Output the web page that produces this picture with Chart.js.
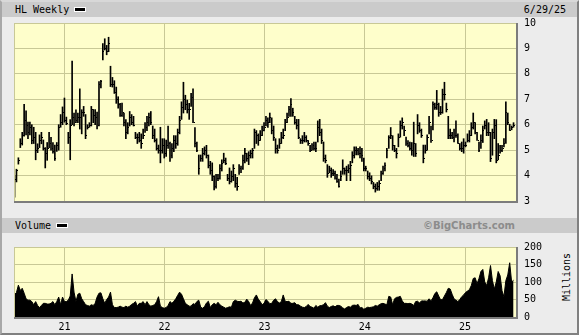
<!DOCTYPE html>
<html>
<head>
<meta charset="utf-8">
<script src="https://cdn.jsdelivr.net/npm/chart.js@4.4.1/dist/chart.umd.min.js"></script>
<style>
  html, body { margin: 0; padding: 0; }
  body { width: 579px; height: 335px; position: relative; overflow: hidden; background: #ececec;
         font-family: "DejaVu Sans Mono", monospace; font-size: 10px; color: #000; }
  #frame { position: absolute; left: 0; top: 0; width: 575px; height: 331px;
           border-left: 2px solid #a8a8a8; border-top: 2px solid #d8d8d8;
           border-right: 2px solid #808080; border-bottom: 2px solid #808080; }
  .band { position: absolute; left: 2px; width: 575px; height: 15px; line-height: 15px; background: #cbcbcb; }
  .band .title { position: absolute; left: 13px; top: 0; }
  .swatch { display: inline-block; width: 10px; height: 3px; background: #000; border: 1px solid #fff;
            vertical-align: middle; margin-left: 5px; position: relative; top: -1px; }
  #date { position: absolute; right: 11px; top: 0; }
  #brand { position: absolute; right: 62px; top: 0; font-family: "DejaVu Sans", sans-serif;
           font-weight: bold; font-size: 10px; color: #8c8c8c; }
  #millions { position: absolute; left: 566px; top: 277px; transform: translate(-50%, -50%) rotate(-90deg);
              white-space: nowrap; }
  canvas { position: absolute; left: 0; }
</style>
</head>
<body>
<div id="frame"></div>
<div class="band" style="top:2px"><span class="title">HL Weekly<span class="swatch"></span></span><span id="date">6/29/25</span></div>
<div class="band" style="top:218px"><span class="title">Volume<span class="swatch"></span></span><span id="brand">©BigCharts.com</span></div>
<div id="millions">Millions</div>
<canvas id="price" width="579" height="215" style="top:0"></canvas>
<canvas id="volume" width="579" height="102" style="top:233px"></canvas>
<script>
// weekly bars, first week ending 2020-07-03, last 2025-06-27
const firstWeek = '2020-07-03';
const yearLabels = ['21', '22', '23', '24', '25'];
const yearStarts = ['2021-01-01', '2022-01-01', '2023-01-01', '2024-01-01', '2025-01-01'];
const priceTicks = [3, 4, 5, 6, 7, 8, 9, 10];
const volumeTicks = [0, 50, 100, 150, 200];

const highs = [
  4.0,4.25,4.7,5.45,5.7,6.8,6.55,6.1,6.1,6.0,
  5.9,5.7,5.25,5.6,5.7,5.4,5.1,5.3,5.7,5.5,
  5.3,5.2,5.3,6.0,6.4,6.7,7.05,6.3,5.7,6.2,
  8.5,6.46,6.59,6.46,7.41,6.59,6.72,6.4,6.0,6.08,
  6.72,6.6,6.6,6.5,7.7,7.75,9.19,9.38,9.12,9.44,
  8.3,7.86,7.73,7.48,7.1,6.84,6.85,6.46,6.2,6.08,
  6.52,6.4,6.33,5.7,5.64,5.7,5.64,5.83,6.08,6.33,
  6.46,6.52,5.95,5.83,5.45,5.2,5.9,5.45,5.45,5.4,
  5.95,5.32,5.26,5.57,5.57,5.83,6.33,6.9,7.67,7.16,
  6.97,6.84,7.23,7.41,5.89,5.32,4.81,4.81,5.07,5.13,
  5.19,4.81,4.56,4.5,3.99,4.05,4.05,4.43,4.62,4.88,
  4.69,4.05,4.3,4.18,4.43,4.05,3.93,4.43,4.37,4.81,
  5.07,4.88,4.94,5.0,5.07,5.83,5.77,5.64,5.77,5.95,
  6.08,6.33,6.27,6.46,6.27,5.95,5.45,5.2,5.45,5.7,
  5.83,6.21,6.46,6.72,7.03,6.65,6.33,6.21,6.21,5.45,
  5.57,5.7,5.57,5.38,5.19,5.26,5.32,5.32,6.15,6.21,
  5.83,5.32,4.81,4.43,4.37,4.3,4.24,4.18,4.05,3.86,
  4.18,4.62,4.3,4.37,4.43,4.56,4.94,5.13,5.13,5.07,
  5.13,5.07,4.69,4.37,4.18,4.11,3.99,3.73,3.67,3.73,
  3.8,4.18,4.37,4.5,5.07,5.57,5.89,5.57,5.19,5.07,
  5.64,6.15,6.27,5.95,5.51,5.38,5.32,5.3,6.1,5.26,
  6.4,6.08,5.83,5.2,5.2,5.6,6.33,5.95,6.9,6.85,
  7.35,6.85,6.72,7.4,7.67,6.85,6.33,5.83,5.7,5.83,
  6.15,5.64,5.26,5.32,5.45,5.32,5.64,5.77,6.08,6.46,
  6.08,5.7,5.32,5.6,5.95,6.15,6.21,6.08,5.7,5.83,
  6.21,6.2,5.26,5.19,5.19,5.45,6.9,6.46,6.02,5.95,
  6.08
];
const lows = [
  3.15,3.75,4.45,5.1,5.2,5.55,5.6,5.45,5.6,5.25,
  5.26,4.62,4.9,5.1,5.25,5.0,4.3,4.6,5.1,5.0,
  4.88,4.6,4.95,5.0,5.9,6.0,6.1,6.0,5.26,4.62,
  6.0,5.95,6.08,6.08,5.83,5.64,6.33,5.45,5.83,5.9,
  5.95,6.08,6.0,5.83,5.95,7.45,8.55,8.94,8.75,8.87,
  7.5,7.48,7.23,6.84,6.65,6.33,6.33,5.95,5.45,5.64,
  5.95,6.0,5.95,5.45,5.26,5.32,5.07,5.45,5.7,5.77,
  5.95,6.0,5.45,5.32,5.0,4.88,4.5,4.88,4.69,4.75,
  5.07,4.56,4.69,4.94,5.07,5.19,5.64,6.21,6.46,6.59,
  6.46,6.21,6.72,6.08,5.13,4.94,4.05,4.56,4.56,4.81,
  4.69,4.3,4.05,3.8,3.44,3.5,3.8,3.86,4.18,4.5,
  4.43,3.8,3.67,3.74,3.8,3.54,3.42,4.05,4.11,4.24,
  4.5,4.56,4.43,4.69,4.69,5.07,5.26,5.19,5.38,5.57,
  5.76,5.95,5.89,6.08,5.64,5.38,4.88,4.88,5.07,5.26,
  5.45,5.77,6.08,6.33,6.33,6.33,6.02,5.83,5.45,5.26,
  5.26,5.32,5.32,5.19,4.94,5.0,5.0,4.94,5.32,5.57,
  5.26,4.56,4.5,3.93,4.11,3.93,4.0,3.86,3.73,3.54,
  3.8,4.05,4.05,3.8,4.11,3.8,4.5,4.69,4.81,4.81,
  4.69,4.56,4.18,4.18,3.86,3.8,3.67,3.48,3.35,3.42,
  3.42,3.8,4.05,4.18,4.69,5.07,5.45,5.0,4.94,4.69,
  5.13,5.51,5.83,5.57,5.19,5.13,5.0,4.8,4.75,4.75,
  5.64,5.7,5.5,4.5,4.88,5.0,5.64,5.3,5.8,6.6,
  6.6,6.33,6.4,6.45,6.97,6.5,5.45,5.45,5.45,5.32,
  5.5,5.26,5.0,4.94,4.88,5.13,5.32,5.32,5.57,5.83,
  5.64,5.38,4.94,5.07,5.3,5.83,5.57,5.57,4.55,4.8,
  5.45,4.5,4.62,4.88,4.94,5.13,5.26,6.0,5.77,5.8,
  5.9
];
const closes = [
  3.85,4.2,4.6,5.3,5.6,6.2,6.0,5.7,5.9,5.4,
  5.5,5.0,5.1,5.4,5.5,5.1,4.9,5.1,5.3,5.1,
  4.95,4.7,5.2,5.9,6.1,6.5,6.2,6.05,5.5,6.0,
  6.3,6.1,6.2,6.3,6.3,6.5,6.5,5.6,5.9,6.0,
  6.6,6.4,6.3,6.0,7.6,7.7,8.9,9.0,8.9,9.2,
  7.6,7.6,7.3,7.0,6.8,6.4,6.5,6.1,5.7,5.9,
  6.3,6.1,6.0,5.5,5.5,5.4,5.3,5.6,5.9,6.1,
  6.3,6.1,5.6,5.4,5.1,5.0,5.0,5.2,4.9,5.2,
  5.3,4.8,5.1,5.4,5.3,5.7,6.2,6.7,7.0,6.8,
  6.6,6.6,7.1,6.1,5.3,5.0,4.3,4.7,4.9,5.0,
  4.8,4.4,4.2,4.0,3.6,3.9,3.9,4.3,4.5,4.6,
  4.5,3.9,3.8,4.0,4.3,3.7,3.6,4.3,4.3,4.6,
  4.9,4.7,4.8,4.9,5.0,5.7,5.6,5.4,5.6,5.8,
  5.9,6.2,6.1,6.3,5.8,5.5,5.1,5.0,5.3,5.5,
  5.6,6.1,6.3,6.6,6.8,6.5,6.1,6.0,5.5,5.4,
  5.4,5.5,5.4,5.3,5.0,5.2,5.1,5.1,5.9,5.7,
  5.4,4.7,4.6,4.1,4.2,4.1,4.1,3.9,3.8,3.6,
  4.0,4.3,4.2,4.2,4.3,4.4,4.8,5.0,5.0,4.9,
  4.9,4.8,4.3,4.3,4.0,3.9,3.8,3.6,3.5,3.6,
  3.7,4.1,4.3,4.4,5.0,5.5,5.6,5.2,5.0,4.9,
  5.5,6.0,6.1,5.8,5.3,5.2,5.1,5.0,5.3,4.9,
  6.0,5.8,5.6,4.7,5.0,5.5,6.1,5.4,6.8,6.7,
  6.8,6.5,6.5,7.2,7.2,6.6,5.6,5.6,5.5,5.6,
  5.6,5.3,5.1,5.1,5.2,5.2,5.4,5.6,5.9,6.1,
  5.7,5.4,5.0,5.4,5.8,6.0,5.7,5.7,4.7,5.7,
  6.0,4.6,4.8,5.0,5.1,5.3,6.5,6.1,5.8,5.9,
  6.0
];
// millions of shares per week
const volumes = [
  64,70,91,76,82,68,52,48,48,44,
  35,44,33,27,33,39,39,37,37,39,
  44,35,44,57,35,57,44,44,48,60,
  123,71,44,65,68,52,44,35,33,31,
  35,33,39,57,68,69,52,39,50,57,
  71,35,27,27,28,31,28,27,31,28,
  31,36,39,44,31,39,39,44,35,44,
  35,31,33,35,44,58,31,27,25,27,
  33,44,39,45,52,62,71,65,52,39,
  35,31,31,38,36,44,48,28,25,30,
  40,45,27,35,39,35,42,35,31,28,
  25,27,29,28,44,48,45,44,45,40,
  42,51,44,33,40,55,63,51,44,35,
  39,50,45,38,39,48,52,44,40,44,
  63,45,44,45,39,39,41,35,35,31,
  28,27,30,36,30,28,25,33,28,32,
  33,35,41,31,27,30,32,29,33,33,
  31,26,23,27,30,28,33,34,33,36,
  26,27,22,25,28,27,28,29,33,31,
  35,38,39,37,35,59,57,35,52,56,
  57,59,46,39,39,38,39,37,33,44,
  45,40,46,46,46,45,52,46,55,67,
  72,60,49,50,60,70,82,80,65,52,
  48,44,50,58,63,70,74,78,90,110,
  112,95,110,130,136,100,90,112,147,104,
  80,100,130,118,75,58,104,120,155,100,
  105
];

const DAY = 86400000;
const t0 = Date.parse(firstWeek);
const weekDays = highs.map((_, i) => i * 7);
const yearDays = yearStarts.map(d => (Date.parse(d) - t0) / DAY);
const X_MIN = -2, X_MAX = 1829;

const FONT = { family: 'DejaVu Sans Mono', size: 10 };
const GRID = '#c8c896';
const PLOT_BG = '#fefecb';

const plotFrame = {
  id: 'plotFrame',
  beforeDraw(chart) {
    const { ctx, chartArea: a } = chart;
    ctx.save();
    ctx.fillStyle = PLOT_BG;
    ctx.fillRect(a.left, a.top, a.right - a.left, a.bottom - a.top);
    ctx.restore();
  },
  afterDraw(chart) {
    const { ctx, chartArea: a } = chart;
    ctx.save();
    ctx.fillStyle = GRID;
    ctx.fillRect(a.left, a.top, a.right - a.left, 1);
    ctx.fillRect(a.left, a.top, 1, a.bottom - a.top);
    ctx.fillStyle = '#7c7c7c';
    ctx.fillRect(a.left, a.bottom, a.right - a.left + 2, 2);
    ctx.fillRect(a.right, a.top, 2, a.bottom - a.top + 2);
    ctx.restore();
  }
};

// right-hand close tick on every weekly bar
const closeTicks = {
  id: 'closeTicks',
  afterDatasetsDraw(chart) {
    const { ctx } = chart;
    const y = chart.scales.y;
    const meta = chart.getDatasetMeta(0);
    ctx.save();
    ctx.fillStyle = '#000';
    meta.data.forEach((bar, i) => {
      const yc = y.getPixelForValue(closes[i]);
      ctx.fillRect(Math.round(bar.x + 0.5), Math.round(yc), 1, 1);
    });
    ctx.restore();
  }
};

const yearGrid = s => { s.ticks = yearDays.map(v => ({ value: v })); };

new Chart(document.getElementById('price'), {
  type: 'bar',
  data: {
    datasets: [{
      data: weekDays.map((d, i) => ({ x: d, y: [lows[i], highs[i]] })),
      backgroundColor: '#000',
      borderWidth: 0,
      barThickness: 1,
      grouped: false
    }]
  },
  options: {
    responsive: false,
    animation: false,
    events: [],
    layout: { padding: { left: 14, top: 23, right: 0, bottom: 7 } },
    plugins: { legend: { display: false }, tooltip: { enabled: false } },
    scales: {
      x: {
        type: 'linear', min: X_MIN, max: X_MAX, offset: false,
        grid: { color: GRID, drawTicks: false, offset: false },
        border: { display: false },
        ticks: { display: false },
        afterBuildTicks: yearGrid,
        afterFit: s => { s.height = 0; }
      },
      y: {
        position: 'right', min: 3, max: 10,
        grid: { color: GRID, drawTicks: false },
        border: { display: false },
        afterBuildTicks: s => { s.ticks = priceTicks.map(v => ({ value: v })); },
        ticks: { padding: 8, color: '#000', font: FONT },
        afterFit: s => { s.width = 63; }
      }
    }
  },
  plugins: [plotFrame, closeTicks]
});

new Chart(document.getElementById('volume'), {
  type: 'line',
  data: {
    datasets: [{
      data: weekDays.map((d, i) => ({ x: d, y: volumes[i] })),
      borderColor: '#000',
      backgroundColor: '#000',
      borderWidth: 1,
      fill: 'origin',
      pointRadius: 0,
      tension: 0
    }]
  },
  options: {
    responsive: false,
    animation: false,
    events: [],
    layout: { padding: { left: 14, top: 6, right: 0, bottom: 0 } },
    plugins: { legend: { display: false }, tooltip: { enabled: false } },
    scales: {
      x: {
        type: 'linear', min: X_MIN, max: X_MAX,
        grid: { color: GRID, drawTicks: false },
        border: { display: false },
        afterBuildTicks: yearGrid,
        ticks: { padding: 4, color: '#000', font: FONT, maxRotation: 0,
                 callback: (v, i) => yearLabels[i] },
        afterFit: s => { s.height = 18; }
      },
      y: {
        position: 'right', min: 0, max: 200,
        grid: { color: GRID, drawTicks: false },
        border: { display: false },
        afterBuildTicks: s => { s.ticks = volumeTicks.map(v => ({ value: v })); },
        ticks: { padding: 8, color: '#000', font: FONT },
        afterFit: s => { s.width = 63; }
      }
    }
  },
  plugins: [plotFrame]
});
</script>
</body>
</html>
